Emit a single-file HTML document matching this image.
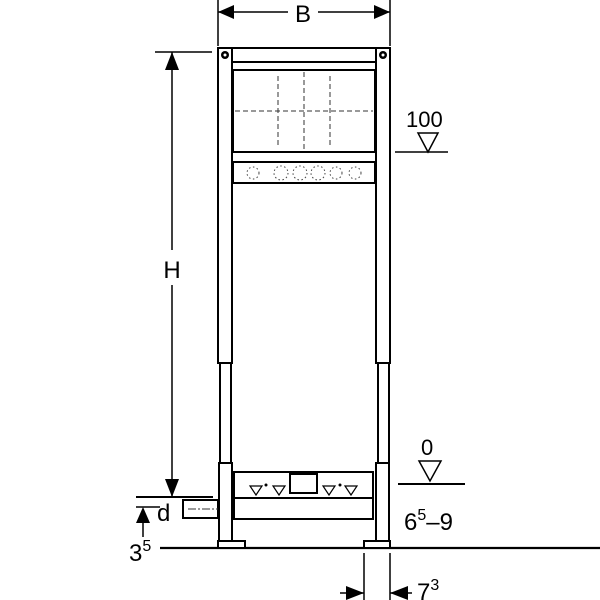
<!DOCTYPE html>
<html><head><meta charset="utf-8"><style>html,body{margin:0;padding:0;background:#fff}svg{display:block}</style></head>
<body>
<svg width="600" height="600" viewBox="0 0 600 600" xmlns="http://www.w3.org/2000/svg" font-family="Liberation Sans, sans-serif">
<g stroke="#000" fill="none" stroke-width="1.5">
<line x1="218" y1="0" x2="218" y2="46"/><line x1="390" y1="0" x2="390" y2="46"/>
<line x1="218" y1="12" x2="288" y2="12"/><line x1="318" y1="12" x2="390" y2="12"/>
<line x1="155" y1="52" x2="212" y2="52"/>
<line x1="172" y1="52" x2="172" y2="250"/><line x1="172" y1="285" x2="172" y2="497"/>
<line x1="136" y1="497" x2="213" y2="497" stroke-width="2"/>
<line x1="136" y1="507" x2="160" y2="507"/>
<line x1="143" y1="520" x2="143" y2="537"/>
<line x1="160" y1="548" x2="600" y2="548" stroke-width="2.2"/>
<line x1="364" y1="553" x2="364" y2="600"/><line x1="390" y1="553" x2="390" y2="600"/>
<line x1="340" y1="593" x2="364" y2="593"/><line x1="390" y1="593" x2="412" y2="593"/>
<line x1="395" y1="152" x2="448" y2="152"/>
<polygon points="418,133 438,133 428,152"/>
<line x1="398" y1="484" x2="465" y2="484" stroke-width="2"/>
<polygon points="419,461 441,461 430,481"/>
</g>
<g fill="#000">
<polygon points="218,12 234,5 234,19"/><polygon points="390,12 374,5 374,19"/>
<polygon points="172,52 165,70 179,70"/><polygon points="172,497 165,479 179,479"/>
<polygon points="143,507 136,523 150,523"/>
<polygon points="364,593 346,586 346,600"/><polygon points="390,593 408,586 408,600"/>
</g>
<g stroke="#000" fill="#fff" stroke-width="2">
<rect x="218" y="48" width="172" height="14"/>
<rect x="218" y="48" width="14" height="315"/>
<rect x="376" y="48" width="14" height="315"/>
<rect x="220" y="363" width="11" height="100"/>
<rect x="378" y="363" width="11" height="100"/>
<rect x="219" y="463" width="13" height="84"/>
<rect x="376" y="463" width="13" height="84"/>
<rect x="218" y="541" width="27" height="7"/>
<rect x="364" y="541" width="26" height="7"/>
<rect x="233" y="70" width="142" height="82"/>
<rect x="233" y="162" width="142" height="21"/>
<rect x="234" y="472" width="139" height="26"/>
<rect x="234" y="498" width="139" height="21"/>
<rect x="183" y="500" width="35" height="18"/>
<rect x="290" y="474" width="27" height="19"/>
</g>
<g stroke="#000" fill="#fff" stroke-width="1.2">
<polygon points="250,486 262,486 256,495"/><polygon points="273,486 285,486 279,495"/>
<polygon points="323,486 335,486 329,495"/><polygon points="345,486 357,486 351,495"/>
</g>
<circle cx="266" cy="485" r="1.5"/><circle cx="340" cy="485" r="1.5"/>
<circle cx="225" cy="55" r="4" fill="#000"/><circle cx="383" cy="55" r="4" fill="#000"/>
<circle cx="225" cy="55" r="1.5" fill="#fff"/><circle cx="383" cy="55" r="1.5" fill="#fff"/>
<g stroke="#333" stroke-width="1" stroke-dasharray="5,3" fill="none">
<line x1="235" y1="111" x2="373" y2="111"/>
<line x1="278" y1="76" x2="278" y2="148"/><line x1="304" y1="72" x2="304" y2="150"/><line x1="330" y1="76" x2="330" y2="148"/>
<line x1="188" y1="509" x2="218" y2="509" stroke-dasharray="8,2,2,2"/>
</g>
<g fill="none" stroke="#444" stroke-width="1" stroke-dasharray="1.5,2.5">
<circle cx="253" cy="173" r="6"/><circle cx="355" cy="173" r="6"/>
<circle cx="281" cy="173" r="7"/><circle cx="300" cy="173" r="7"/><circle cx="318" cy="173" r="7"/><circle cx="336" cy="173" r="6"/>
</g>
<g font-size="24" fill="#000">
<rect x="290" y="0" width="26" height="24" fill="#fff"/>
<text x="303" y="22" text-anchor="middle">B</text>
<text x="172" y="278" text-anchor="middle">H</text>
<text x="406" y="127" font-size="22">100</text>
<text x="421" y="455" font-size="22">0</text>
<text x="157" y="521">d</text>
<text x="129" y="561">3<tspan font-size="16" dy="-10">5</tspan></text>
<text x="404" y="530">6<tspan font-size="16" dy="-10">5</tspan><tspan dy="10">–9</tspan></text>
<text x="417" y="600">7<tspan font-size="16" dy="-10">3</tspan></text>
</g>
</svg>
</body></html>
